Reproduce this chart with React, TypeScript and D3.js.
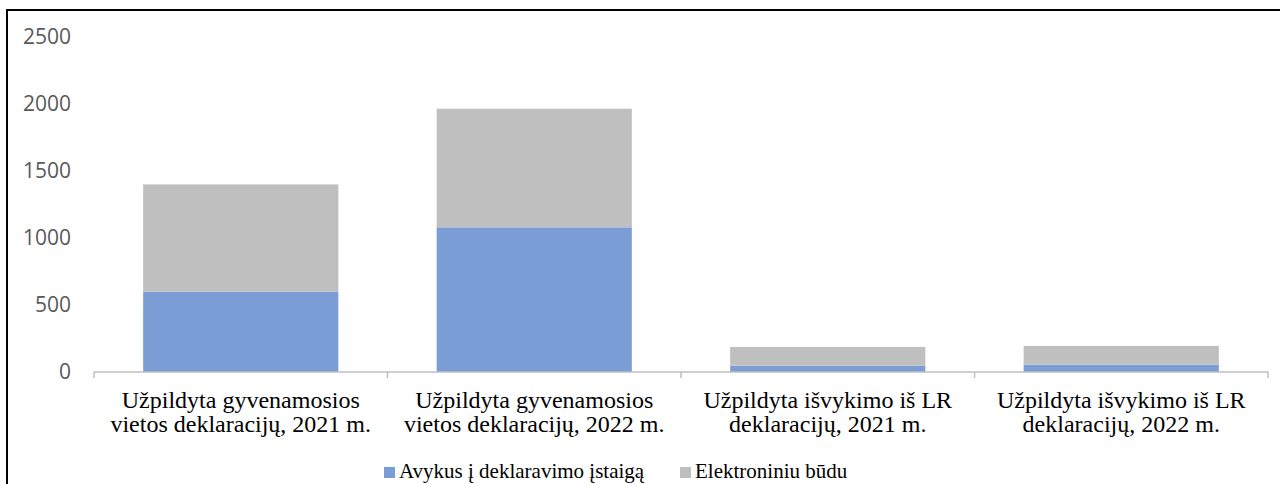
import React, { useEffect, useRef } from 'react';
import * as d3 from 'd3';

const categories = [
  ['Užpildyta gyvenamosios', 'vietos deklaracijų, 2021 m.'],
  ['Užpildyta gyvenamosios', 'vietos deklaracijų, 2022 m.'],
  ['Užpildyta išvykimo iš LR', 'deklaracijų, 2021 m.'],
  ['Užpildyta išvykimo iš LR', 'deklaracijų, 2022 m.'],
];
const inPerson = [600, 1080, 47, 55];
const electronic = [800, 885, 140, 140];
const seriesNames = ['Avykus į deklaravimo įstaigą', 'Elektroniniu būdu'];
const seriesColors = ['#7b9dd6', '#bfbfbf'];
const yTicks = [0, 500, 1000, 1500, 2000, 2500];

const W = 1280;
const H = 484;
const SERIF = "'Liberation Serif', 'Times New Roman', Times, 'DejaVu Serif', serif";

export default function App() {
  const svgRef = useRef<SVGSVGElement>(null);

  useEffect(() => {
    const svg = d3.select(svgRef.current);
    svg.selectAll('*').remove();

    const left = 94;
    const right = 1268;
    const top = 37;
    const plotBottom = 372;

    const x = d3.scaleBand()
      .domain(categories.map((_, i) => String(i)))
      .range([left, right])
      .paddingInner(0.335)
      .paddingOuter(0.1675);

    const y = d3.scaleLinear().domain([0, 2500]).range([plotBottom, top]);

    svg.append('rect')
      .attr('x', 0).attr('y', 0).attr('width', W).attr('height', H)
      .attr('fill', '#fff');

    // outer frame (only left/top visible in the crop)
    svg.append('rect')
      .attr('x', 7).attr('y', 10).attr('width', W + 20).attr('height', H + 20)
      .attr('fill', 'none').attr('stroke', '#000').attr('stroke-width', 2);

    const rows = categories.map((_, i) => ({ key: String(i), a: inPerson[i], b: electronic[i] }));
    const stacked = d3.stack<any>().keys(['a', 'b'])(rows);

    svg.append('g').selectAll('g')
      .data(stacked)
      .join('g')
      .attr('fill', (_, i) => seriesColors[i])
      .selectAll('rect')
      .data(d => d)
      .join('rect')
      .attr('x', d => x(d.data.key)!)
      .attr('width', x.bandwidth())
      .attr('y', d => y(d[1]))
      .attr('height', d => y(d[0]) - y(d[1]));

    // x axis with category boundary ticks
    const step = x.step();
    const ax = svg.append('g').attr('stroke', '#bfbfbf').attr('stroke-width', 1.5);
    ax.append('line')
      .attr('x1', left).attr('x2', right)
      .attr('y1', plotBottom).attr('y2', plotBottom);
    d3.range(categories.length + 1).forEach(i => {
      const tx = left + i * step;
      ax.append('line')
        .attr('x1', tx).attr('x2', tx)
        .attr('y1', plotBottom).attr('y2', plotBottom + 6);
    });

    // y tick labels (no axis line, no gridlines)
    svg.append('g')
      .selectAll('text')
      .data(yTicks)
      .join('text')
      .attr('x', 71)
      .attr('y', d => y(d))
      .attr('dy', '0.35em')
      .attr('text-anchor', 'end')
      .attr('fill', '#595959')
      .attr('font-family', "'Open Sans', sans-serif")
      .attr('font-size', 21)
      .text(d => d);

    // category labels
    categories.forEach((lines, i) => {
      const cx = x(String(i))! + x.bandwidth() / 2;
      lines.forEach((ln, j) => {
        svg.append('text')
          .attr('x', cx)
          .attr('y', 408 + j * 24)
          .attr('text-anchor', 'middle')
          .attr('fill', '#000')
          .attr('font-family', SERIF)
          .attr('font-size', 24)
          .text(ln);
      });
    });

    // legend
    const legendX = [384, 680];
    seriesNames.forEach((name, i) => {
      svg.append('rect')
        .attr('x', legendX[i]).attr('y', 467)
        .attr('width', 11).attr('height', 11)
        .attr('fill', seriesColors[i]);
      svg.append('text')
        .attr('x', legendX[i] + 15).attr('y', 478)
        .attr('fill', '#000')
        .attr('font-family', SERIF)
        .attr('font-size', 21)
        .text(name);
    });
  }, []);

  return (
    <svg
      ref={svgRef}
      width={W}
      height={H}
      style={{ position: 'absolute', left: 0, top: 0, display: 'block' }}
    />
  );
}
